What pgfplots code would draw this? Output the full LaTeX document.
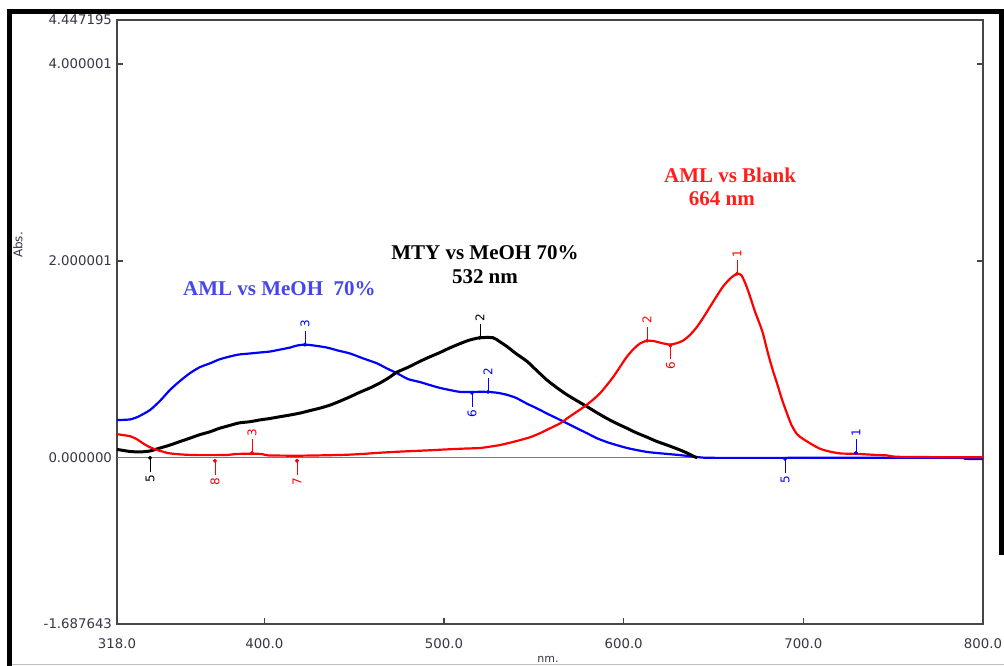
\documentclass[border=0pt]{standalone}
\usepackage{fontspec}
\setmainfont{DejaVu Sans}
\newfontfamily\tms{Liberation Serif}
\usepackage{pgfplots}
\pgfplotsset{compat=1.18}

\definecolor{axisgray}{RGB}{70,70,70}
\definecolor{zerogray}{RGB}{120,120,120}
\definecolor{ticktext}{RGB}{55,55,70}
\definecolor{amlblue}{RGB}{70,70,235}
\definecolor{amlred}{RGB}{255,30,30}

% peak pick markers: dot on the curve, stem and a turned number
\pgfplotsset{
  pkup/.style={only marks, mark=*, mark size=1.8pt, forget plot,
    point meta=explicit symbolic, nodes near coords,
    every node near coord/.append style={font=\fontsize{12}{12}\selectfont,
      inner sep=0.5pt, yshift=16pt, rotate=90, anchor=west},
    error bars/.cd, y dir=plus, y fixed=0.14, error mark=none},
  pkdown/.style={only marks, mark=*, mark size=1.8pt, forget plot,
    point meta=explicit symbolic, nodes near coords,
    every node near coord/.append style={font=\fontsize{12}{12}\selectfont,
      inner sep=0.5pt, yshift=-16pt, rotate=90, anchor=east},
    error bars/.cd, y dir=minus, y fixed=0.14, error mark=none},
}

\begin{document}
\begin{tikzpicture}[x=1pt,y=1pt]
\path[use as bounding box] (0,0) rectangle (1004,665);
\fill[white] (0,0) rectangle (1004,665);

\begin{axis}[
  at={(117pt,41pt)}, anchor=south west, scale only axis,
  width=866pt, height=604pt,
  xmin=318, xmax=800, ymin=-1.687643, ymax=4.447195,
  xtick={318,400,500,600,700,800},
  xticklabels={318.0,400.0,500.0,600.0,700.0,800.0},
  ytick={-1.687643,0,2.000001,4.000001,4.447195},
  yticklabels={-1.687643,0.000000,2.000001,4.000001,4.447195},
  tick align=inside, xtick pos=bottom, ytick pos=both,
  major tick length=6pt,
  axis line style={draw=axisgray, line width=1.3pt},
  tick style={draw=axisgray, line width=1.2pt},
  ticklabel style={font=\fontsize{13.3}{15}\selectfont, text=ticktext},
  xticklabel style={yshift=-11pt},
  yticklabel style={xshift=-1.5pt},
  clip=false,
]

\addplot[zerogray, line width=1pt, forget plot] coordinates {(318,0) (800,0)};

% AML vs MeOH 70%
\addplot[blue, line width=2.2pt, smooth, tension=0.4] coordinates {
(318,0.384)(325.2,0.39)(330,0.42)(336.4,0.486)(342,0.58)(347.5,0.69)(353,0.78)
(358.6,0.86)(364,0.92)(369.8,0.96)(375,1.0)(380.9,1.03)(386,1.05)(392,1.06)
(397.5,1.07)(403.2,1.08)(408.8,1.10)(414.3,1.12)(418,1.14)(422.6,1.15)(428,1.14)
(434.9,1.12)(441,1.09)(447.7,1.06)(455,1.01)(462.7,0.96)(468,0.91)(473.8,0.86)
(480,0.80)(486.6,0.77)(492,0.74)(497.8,0.71)(503,0.69)(508.9,0.67)(515.6,0.67)
(524,0.67)(530,0.66)(535.1,0.64)(540,0.61)(546.2,0.55)(552,0.50)(557.3,0.45)
(563,0.40)(568.5,0.35)(574,0.30)(579.6,0.25)(585,0.20)(590.7,0.16)(596,0.13)
(601.9,0.10)(607,0.08)(613,0.06)(618,0.05)(624.1,0.04)(630,0.03)(635.2,0.02)
(642.5,0.005)(650,0.0)(700,0.0)(785,0.0)(790,-0.01)(800,-0.012)
};

% MTY vs MeOH 70%
\addplot[black, line width=3pt, smooth, tension=0.4] coordinates {
(318,0.086)(325,0.065)(331,0.06)(336.4,0.07)(342,0.10)(347.5,0.13)(353,0.165)
(358.6,0.20)(364,0.235)(369.8,0.265)(375,0.30)(380.9,0.33)(386,0.355)(392,0.367)
(397.5,0.385)(403.2,0.40)(408.8,0.418)(414.3,0.435)(420,0.455)(425.4,0.48)
(431,0.505)(436.6,0.536)(442,0.575)(447.7,0.62)(453,0.665)(458.8,0.71)
(464.3,0.76)(469,0.81)(473.8,0.87)(480,0.92)(486.6,0.98)(492,1.025)(497.8,1.07)
(503,1.115)(508.9,1.16)(514,1.195)(520,1.22)(527.3,1.22)(531,1.18)(535.1,1.13)
(540,1.06)(546.2,0.98)(552,0.88)(557.3,0.79)(563,0.71)(568.5,0.64)(574,0.58)
(579.6,0.52)(585,0.46)(590.7,0.40)(596,0.35)(601.9,0.30)(607,0.255)(613,0.21)
(618,0.17)(624.1,0.13)(630,0.09)(635.2,0.05)(639,0.015)(641,0.0)
};

% AML vs Blank
\addplot[red, line width=2.2pt, smooth, tension=0.4] coordinates {
(318,0.24)(325.2,0.22)(329,0.19)(332.5,0.147)(336,0.11)(340.3,0.08)(344,0.06)
(347.5,0.045)(355,0.033)(362.5,0.028)(375,0.028)(380,0.03)(385,0.04)(398,0.04)
(402,0.025)(420,0.022)(443.8,0.03)(455,0.04)(462.7,0.05)(472,0.06)(481.1,0.068)
(490,0.075)(501.7,0.086)(510,0.093)(520,0.10)(526,0.115)(531.2,0.13)(537,0.155)
(542.3,0.18)(548,0.21)(553.4,0.25)(559,0.30)(564.6,0.35)(570,0.42)(575.7,0.49)
(579.5,0.54)(582.9,0.59)(586.8,0.655)(590.7,0.74)(594.5,0.83)(598,0.925)
(601.5,1.02)(605.2,1.10)(609,1.16)(613,1.19)(617,1.185)(620.2,1.17)(625.8,1.15)
(629.5,1.165)(633,1.19)(637,1.25)(640.8,1.33)(644.5,1.43)(648.1,1.535)
(651.7,1.64)(655.3,1.74)(659.2,1.82)(663.1,1.87)(665.5,1.855)(668,1.76)
(670.5,1.63)(673,1.49)(675.5,1.37)(677.5,1.265)(679.5,1.12)(681.4,0.99)
(683.5,0.86)(685.3,0.76)(688,0.60)(690.9,0.45)(693.5,0.33)(696.5,0.24)(700,0.19)
(705.4,0.13)(709,0.095)(713.2,0.07)(720.4,0.045)(729.9,0.04)(740,0.03)
(746.6,0.025)(753.8,0.01)(800,0.005)
};

% peak labels
\addplot[blue, pkup] table[meta=lab] {
x y lab
422.6 1.15 3
524.5 0.67 2
729.3 0.05 1
};
\addplot[blue, pkdown] table[meta=lab] {
x y lab
515.6 0.66 6
689.8 -0.01 5
};
\addplot[black, pkup] table[meta=lab] {
x y lab
520.0 1.22 2
};
\addplot[black, pkdown] table[meta=lab] {
x y lab
336.4 0.0 5
};
\addplot[red, pkup] table[meta=lab] {
x y lab
663.1 1.87 1
613.0 1.19 2
393.1 0.05 3
};
\addplot[red, pkdown] table[meta=lab] {
x y lab
626.0 1.14 6
372.5 -0.03 8
418.2 -0.03 7
};

\node[font=\tms\bfseries\fontsize{21}{24}\selectfont, text=amlblue]
  at (axis cs:408.4,1.715) {AML vs MeOH~~70\%};
\node[font=\tms\bfseries\fontsize{21}{24}\selectfont, text=black]
  at (axis cs:522.8,2.08) {MTY vs MeOH 70\%};
\node[font=\tms\bfseries\fontsize{21}{24}\selectfont, text=black]
  at (axis cs:522.8,1.836) {532 nm};
\node[font=\tms\bfseries\fontsize{21}{24}\selectfont, text=amlred]
  at (axis cs:659.2,2.872) {AML vs Blank};
\node[font=\tms\bfseries\fontsize{21}{24}\selectfont, text=amlred]
  at (axis cs:654.7,2.629) {664 nm};
\end{axis}

\node[rotate=90, font=\fontsize{12}{12}\selectfont, text=ticktext] at (18,420) {Abs.};
\node[anchor=base, font=\fontsize{11}{11}\selectfont, text=ticktext] at (548,3) {nm.};

% outer frame
\draw[line width=5pt] (9.5,-5) -- (9.5,653.5) -- (1001.5,653.5) -- (1001.5,110);
\draw[black!25, line width=1pt] (12,1) -- (1004,1);
\end{tikzpicture}
\end{document}
